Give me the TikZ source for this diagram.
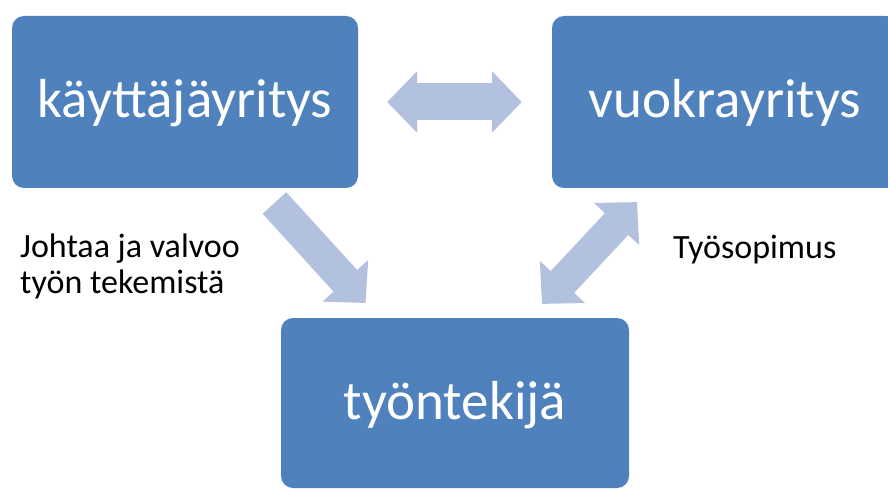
\documentclass[tikz,border=0pt]{standalone}
\usepackage{fontspec}
\setmainfont{Carlito}
\usetikzlibrary{arrows.meta}
\definecolor{boxblue}{RGB}{79,129,189}
\definecolor{arrowblue}{RGB}{178,193,221}

\begin{document}
\begin{tikzpicture}[x=1pt,y=-1pt,
	firma/.style={rectangle, rounded corners=12pt, fill=boxblue, text=white, minimum width=346pt, minimum height=172pt, inner sep=0pt, text height=40pt, text depth=8pt, font=\fontsize{55}{60}\selectfont},
	nuoli/.style={arrowblue, line width=32pt, -{Triangle[length=30pt,width=60pt]}, shorten <=20pt, shorten >=20pt},
	kaksi/.style={nuoli, {Triangle[length=30pt,width=60pt]}-{Triangle[length=30pt,width=60pt]}},
	selite/.style={font=\fontsize{34}{36}\selectfont, inner sep=0pt, align=left}]

	\useasboundingbox (0,0) rectangle (888,489);
	\clip (0,0) rectangle (888,489);

	% Boxes
	\node[firma] (kay) at (185,102) {käyttäjäyritys};
	\node[firma] (vuo) at (725,102) {vuokrayritys};
	\node[firma, minimum width=348pt, minimum height=170pt] (tyo) at (455,403) {työntekijä};

	% Arrows
	\draw[kaksi, line width=37pt, shorten <=29pt, shorten >=30pt] (kay.east) -- (vuo.west);
	\draw[nuoli] ([xshift=76pt]kay.south) -- ([xshift=-76pt]tyo.north);
	\draw[kaksi, shorten <=19pt, shorten >=19pt] ([xshift=-75pt]vuo.south) -- ([xshift=74pt]tyo.north);

	% Labels
	\node[selite, anchor=north west] (johtaa) at (20,234) {Johtaa ja valvoo\\työn tekemistä};
	\node[selite, anchor=base west] (sopimus) at (673,258) {Työsopimus};

\end{tikzpicture}
\end{document}
